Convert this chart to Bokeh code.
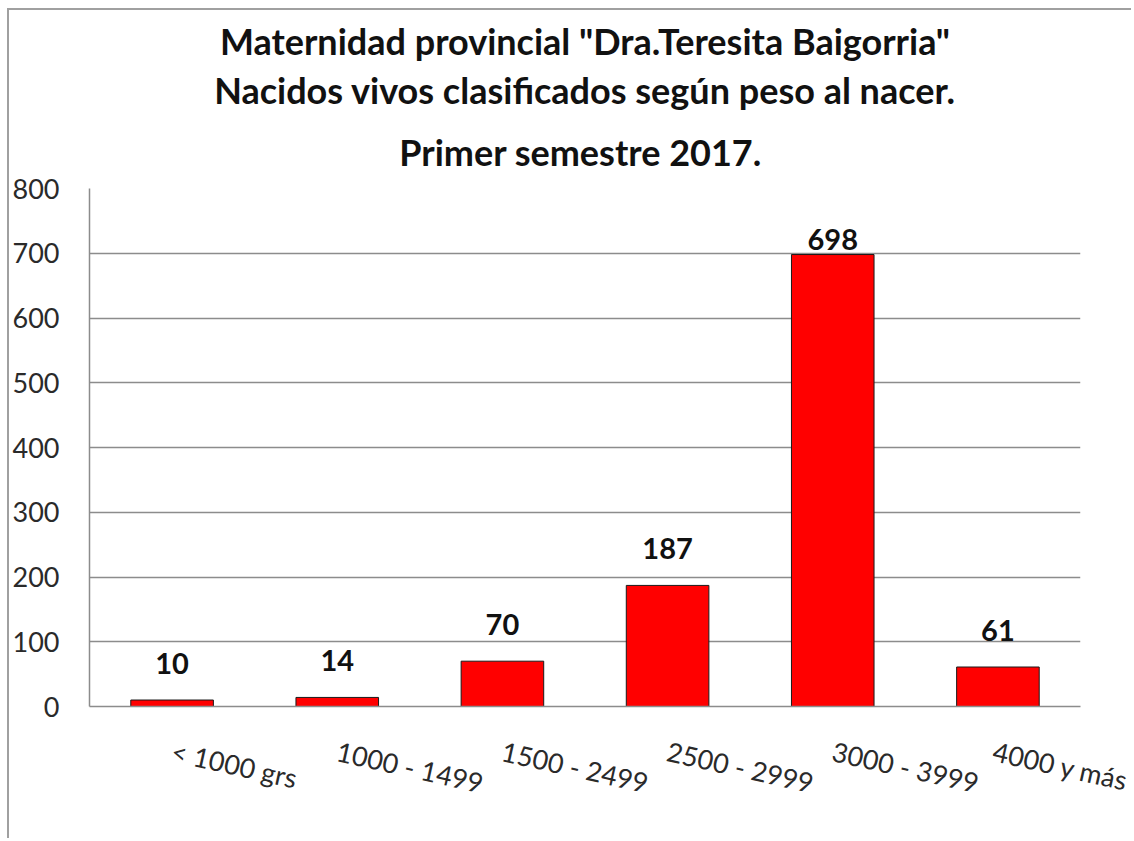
from bokeh.plotting import figure
from bokeh.models import ColumnDataSource, Title, FixedTicker, Range1d
from bokeh.core.properties import value
from bokeh.embed import file_html
from bokeh.resources import INLINE

categories = ["< 1000 grs", "1000 - 1499", "1500 - 2499", "2500 - 2999", "3000 - 3999", "4000 y más"]
nacidos = [10, 14, 70, 187, 698, 61]
y_ticks = [0, 100, 200, 300, 400, 500, 600, 700, 800]
title_lines = [
    'Maternidad provincial "Dra.Teresita Baigorria"',
    "Nacidos vivos clasificados según peso al nacer.",
    "Primer  semestre 2017.",
]

FONT = "Lato"

source = ColumnDataSource(dict(
    cat=categories,
    val=nacidos,
    label=[str(v) for v in nacidos],
    yoff=[-15 if v > 600 else -37 for v in nacidos],
))

p = figure(
    x_range=categories,
    y_range=Range1d(0, 800),
    width=1124, height=830,
    output_backend="svg", toolbar_location=None,
    title=title_lines[0],
    min_border_left=79, min_border_right=53, min_border_bottom=134, min_border_top=178,
    styles={"margin-left": "7px", "margin-top": "8px",
            "border-left": "2px solid #a0a0a0", "border-top": "2px solid #a0a0a0"},
)

p.outline_line_color = None
p.background_fill_color = "white"
p.border_fill_color = "white"

def style_title(t, standoff):
    t.text_font = FONT
    t.text_font_size = "36px"
    t.text_font_style = "bold"
    t.text_color = "#111111"
    t.align = "center"
    t.standoff = standoff
    return t

# p.title is outermost; titles added later sit closer to the plot in reverse order
style_title(p.title, 5)
t3 = style_title(Title(text=title_lines[2]), 30)
p.add_layout(t3, "above")
t2 = style_title(Title(text=title_lines[1]), 1)
p.add_layout(t2, "above")

p.vbar(x="cat", top="val", width=0.5, source=source,
       fill_color="#ff0000", line_color="#1a1a1a", line_width=1)

p.text(x="cat", y="val", text="label", source=source, y_offset="yoff",
       text_align="center", text_baseline="middle",
       text_font=value(FONT), text_font_size="29px", text_font_style="bold",
       text_color="#111111")

# axes
p.yaxis.ticker = FixedTicker(ticks=y_ticks)
p.yaxis.major_tick_line_color = None
p.yaxis.minor_tick_line_color = None
p.yaxis.major_tick_out = 0
p.yaxis.major_label_standoff = 30
p.yaxis.axis_line_color = "#8c8c8c"
p.yaxis.axis_line_width = 1.5
p.yaxis.major_label_text_font = FONT
p.yaxis.major_label_text_font_size = "27px"
p.yaxis.major_label_text_color = "#2a2a2a"

p.xaxis.major_tick_line_color = None
p.xaxis.major_tick_out = 0
p.xaxis.axis_line_color = "#8c8c8c"
p.xaxis.axis_line_width = 1.5
p.xaxis.major_label_orientation = -0.22
p.xaxis.major_label_standoff = 44
p.xaxis.major_label_text_font = FONT
p.xaxis.major_label_text_font_size = "27px"
p.xaxis.major_label_text_color = "#2a2a2a"

p.xgrid.grid_line_color = None
p.ygrid.grid_line_color = "#8c8c8c"
p.ygrid.grid_line_width = 1.5

open("out.html", "w").write(file_html(p, INLINE))
